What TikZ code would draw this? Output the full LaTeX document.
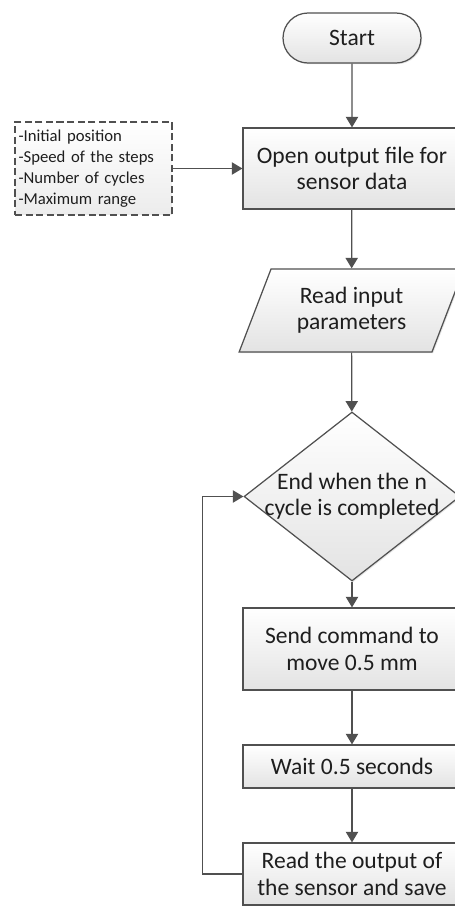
\documentclass[tikz,border=0pt]{standalone}
\usepackage{fontspec}
\setmainfont{Carlito}
\usepackage{tikz}
\usetikzlibrary{shapes.geometric, shapes.misc, arrows.meta, shadows, positioning}
\definecolor{lineGray}{RGB}{80,80,80}
\definecolor{textGray}{RGB}{30,30,30}

\begin{document}
\begin{tikzpicture}[
    x=0.02cm, y=-0.02cm,
    label text/.style={text=textGray, font=\fontsize{13.4}{15}\selectfont, align=center, inner sep=0pt},
    base/.style={label text, draw=lineGray, line width=0.7pt, top color=white, bottom color=gray!22, drop shadow={opacity=0.2, shadow xshift=0.7pt, shadow yshift=-0.7pt}},
    terminal/.style={base, rounded rectangle, minimum width=2.76cm, minimum height=1cm},
    process/.style={base, rectangle, minimum width=4.36cm},
    io/.style={base, trapezium, trapezium left angle=65, trapezium right angle=115, trapezium stretches=true, minimum width=4.5cm, minimum height=1.66cm},
    decision/.style={base, diamond, minimum width=4.32cm, minimum height=3.38cm},
    note/.style={draw=lineGray, line width=0.7pt, dash pattern=on 4pt off 2pt, top color=white, bottom color=gray!15, text=textGray, font=\fontsize{9.5}{12}\selectfont, align=left, text width=3.14cm-4pt, minimum height=1.86cm, inner xsep=2pt, inner ysep=0pt},
    arrow/.style={-{Triangle[length=6pt, width=7pt]}, draw=lineGray, line width=0.7pt}
]
    \useasboundingbox (0,0) rectangle (454,907);

    % Start
    \node[terminal] (start) at (352, 38) {Start};

    % Open file
    \node[process, minimum height=1.62cm] (open) at (352, 168.5) {Open output file for\\sensor data};

    % Parameters
    \node[note] (params) at (93.5, 168.5) {-Initial position\\-Speed of the steps\\-Number of cycles\\-Maximum range};

    % Read input
    \node[io] (input) at (351.5, 310.5) {Read input\\parameters};

    % Loop condition
    \node[decision] (cond) at (352, 496.5) {};
    \node[label text] (condtext) at (cond) {End when the n\\cycle is completed};

    % Move
    \node[process, minimum height=1.64cm] (move) at (352, 649) {Send command to\\move 0.5 mm};

    % Wait
    \node[process, minimum height=0.86cm] (wait) at (352, 766.5) {Wait 0.5 seconds};

    % Read output
    \node[process, minimum height=1.24cm] (read) at (352, 874) {Read the output of\\the sensor and save};

    % Arrows
    \draw[arrow] (start) -- (open);
    \draw[arrow] (params) -- (open);
    \draw[arrow] (open) -- (input);
    \draw[arrow] (input) -- (cond);
    \draw[arrow] (cond) -- (move);
    \draw[arrow] (move) -- (wait);
    \draw[arrow] (wait) -- (read);
    \draw[arrow] (read.west) -- ++(-40, 0) |- (cond.west);
\end{tikzpicture}
\end{document}
